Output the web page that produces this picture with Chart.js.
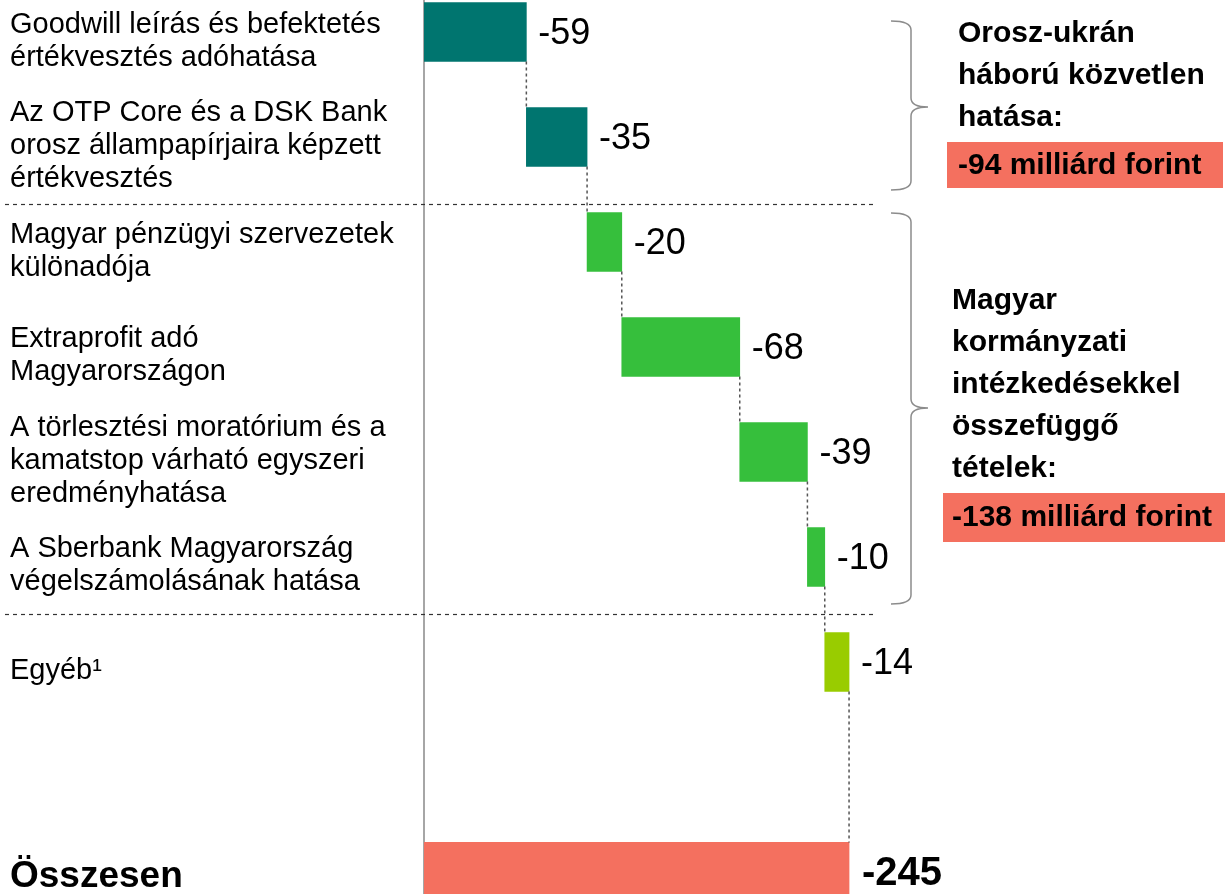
<!DOCTYPE html>
<html lang="hu">
<head>
<meta charset="utf-8">
<title>OTP – egyszeri tételek</title>
<script src="https://cdn.jsdelivr.net/npm/chart.js@4.4.1/dist/chart.umd.min.js"></script>
<style>
  html, body { margin: 0; padding: 0; background: #fff; overflow: hidden; }
  #wrap { position: relative; width: 1225px; height: 894px; }
</style>
</head>
<body>
<div id="wrap"><canvas id="chart-waterfall"></canvas></div>
<script>
/* ===== data ===== */
const categories = [
  ["Goodwill leírás és befektetés", "értékvesztés adóhatása"],
  ["Az OTP Core és a DSK Bank", "orosz állampapírjaira képzett", "értékvesztés"],
  ["Magyar pénzügyi szervezetek", "különadója"],
  ["Extraprofit adó", "Magyarországon"],
  ["A törlesztési moratórium és a", "kamatstop várható egyszeri", "eredményhatása"],
  ["A Sberbank Magyarország", "végelszámolásának hatása"],
  ["Egyéb¹"],
  [""],
  ["Összesen"],
];
const impacts = [-59, -35, -20, -68, -39, -10, -14];
const totalImpact = -245;
const totalRow = 8;

const warLines = ["Orosz-ukrán", "háború közvetlen", "hatása:"];
const warTotal = "-94 milliárd forint";
const govLines = ["Magyar", "kormányzati", "intézkedésekkel", "összefüggő", "tételek:"];
const govTotal = "-138 milliárd forint";

/* ===== styles ===== */
const FONT = "'Liberation Sans', Arial, sans-serif";
const TEAL = "#00756f";
const GREEN = "#36bf3c";
const LIME = "#99cc00";
const SALMON = "#f4705f";
const barColors = [TEAL, TEAL, GREEN, GREEN, GREEN, GREEN, LIME, SALMON];

/* ===== waterfall data built from the values ===== */
let running = 0;
const floating = impacts.map((v, i) => {
  const d = { y: i, x: [running, running + v] };
  running += v;
  return d;
});
floating.push({ y: totalRow, x: [0, totalImpact] });
const valueTexts = impacts.map(String).concat([String(totalImpact)]);

/* =========================================
   DECORATIONS: row labels, connectors, braces
   ========================================= */
function drawBrace(c, top, mid, bottom) {
  const xl = 891, xv = 911, xt = 928, r = 9;
  c.beginPath();
  c.moveTo(xl, top);
  c.quadraticCurveTo(xv, top, xv, top + r);
  c.lineTo(xv, mid - r);
  c.quadraticCurveTo(xv, mid, xt, mid);
  c.quadraticCurveTo(xv, mid, xv, mid + r);
  c.lineTo(xv, bottom - r);
  c.quadraticCurveTo(xv, bottom, xl, bottom);
  c.stroke();
}

const decorPlugin = {
  id: "waterfallDecor",
  afterDatasetsDraw(chart) {
    const c = chart.ctx;
    const bars = chart.getDatasetMeta(0).data;
    const yScale = chart.scales.y;
    c.save();

    // row labels (left column)
    c.fillStyle = "#000";
    c.textAlign = "left";
    c.textBaseline = "middle";
    categories.forEach((lines, i) => {
      const isTotal = i === totalRow;
      c.font = isTotal ? `bold 37px ${FONT}` : `29px ${FONT}`;
      const lh = 33;
      const cy = yScale.getPixelForValue(i) + (isTotal ? 5 : 9);
      const y0 = cy - (lines.length - 1) * lh / 2;
      lines.forEach((t, k) => c.fillText(t, 10, y0 + k * lh));
    });

    // connectors between bars
    c.strokeStyle = "#555";
    c.lineWidth = 1.5;
    c.setLineDash([3, 3]);
    for (let i = 0; i < bars.length - 1; i++) {
      const a = bars[i], b = bars[i + 1];
      const x = Math.max(a.x, a.base);
      c.beginPath();
      c.moveTo(x, a.y + a.height / 2);
      c.lineTo(x, b.y - b.height / 2);
      c.stroke();
    }

    // group separators
    c.strokeStyle = "#333";
    c.lineWidth = 1.2;
    c.setLineDash([4, 4]);
    [1.64, 5.54].forEach(v => {
      const y = Math.round(yScale.getPixelForValue(v)) + 0.5;
      c.beginPath();
      c.moveTo(5, y);
      c.lineTo(877, y);
      c.stroke();
    });
    c.setLineDash([]);

    // value labels
    c.fillStyle = "#000";
    bars.forEach((bar, i) => {
      const isTotal = i === bars.length - 1;
      c.font = isTotal ? `bold 40px ${FONT}` : `36px ${FONT}`;
      const x = Math.max(bar.x, bar.base) + (isTotal ? 13 : 12);
      c.fillText(valueTexts[i], x, bar.y + 2);
    });

    // braces
    c.strokeStyle = "#8c8c8c";
    c.lineWidth = 1.5;
    drawBrace(c, 21, 107, 190);
    drawBrace(c, 213, 408, 604);

    // group texts
    c.font = `bold 30px ${FONT}`;
    c.fillStyle = "#000";
    warLines.forEach((t, i) => c.fillText(t, 958, 34 + i * 42));
    govLines.forEach((t, i) => c.fillText(t, 952, 301 + i * 42));

    c.fillStyle = SALMON;
    c.fillRect(947, 142, 276, 46);
    c.fillRect(943, 493, 282, 49);
    c.fillStyle = "#000";
    c.fillText(warTotal, 958, 166);
    c.fillText(govTotal, 952, 518);

    c.restore();
  },
};

/* =========================================
   CHART
   ========================================= */
new Chart(document.getElementById("chart-waterfall"), {
  type: "bar",
  data: {
    datasets: [{
      data: floating,
      backgroundColor: barColors,
      borderWidth: 0,
      borderSkipped: false,
      barThickness: 59,
    }],
  },
  options: {
    indexAxis: "y",
    responsive: true,
    maintainAspectRatio: false,
    animation: false,
    layout: { padding: 0 },
    plugins: { legend: { display: false }, tooltip: { enabled: false } },
    scales: {
      x: {
        type: "linear",
        display: false,
        reverse: true,
        min: -461.7,
        max: 0,
      },
      y: {
        type: "linear",
        reverse: true,
        offset: false,
        min: -0.305,
        max: 8.21,
        afterFit: s => {
          s.width = 424;
          s.paddingTop = 0;
          s.paddingBottom = 0;
        },
        grid: { display: false },
        border: { display: true, color: "#a6a6a6", width: 2 },
        ticks: { display: false },
      },
    },
  },
  plugins: [decorPlugin],
});
</script>
</body>
</html>
